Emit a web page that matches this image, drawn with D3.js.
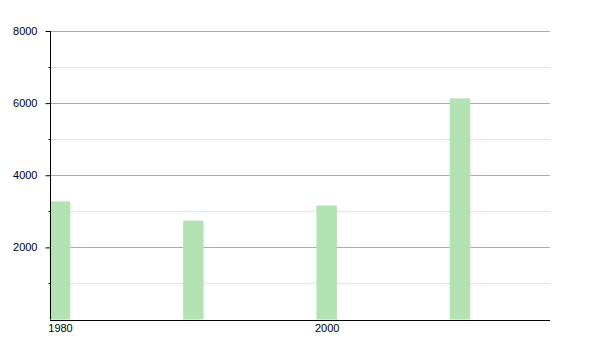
<!DOCTYPE html>
<html>
<head>
<meta charset="utf-8">
<script src="https://cdn.jsdelivr.net/npm/d3@7"></script>
<style>
  body { margin: 0; background: #fff; }
  svg { display: block; font-family: "Liberation Sans", Arial, sans-serif; }
</style>
</head>
<body>
<svg id="chart" width="600" height="350"></svg>
<script>
const years = [1980, 1990, 2000, 2010];
const values = [3275, 2740, 3160, 6130];
const xTickValues = [1980, 2000];
const yMajorTicks = [2000, 4000, 6000, 8000];
const yMinorTicks = [1000, 3000, 5000, 7000];

const margin = { left: 50, right: 50, top: 31, bottom: 30 };
const width = 600, height = 350;
const svg = d3.select("#chart");

const x = d3.scaleLinear().domain([1979.25, 2016.75]).range([margin.left, width - margin.right]);
const y = d3.scaleLinear().domain([0, 8000]).range([height - margin.bottom - 0.5, margin.top]);
const barW = 20.5;

// minor gridlines
svg.append("g").selectAll("line").data(yMinorTicks).join("line")
  .attr("x1", margin.left).attr("x2", width - margin.right)
  .attr("y1", d => Math.round(y(d)) + 0.5).attr("y2", d => Math.round(y(d)) + 0.5)
  .attr("stroke", "#e3e3e3").attr("stroke-width", 1);
// major gridlines
svg.append("g").selectAll("line").data(yMajorTicks).join("line")
  .attr("x1", margin.left).attr("x2", width - margin.right)
  .attr("y1", d => Math.round(y(d)) + 0.5).attr("y2", d => Math.round(y(d)) + 0.5)
  .attr("stroke", "#ababab").attr("stroke-width", 1);

// bars
svg.append("g").selectAll("rect").data(years).join("rect")
  .attr("x", (d) => x(d) - barW / 2)
  .attr("width", barW)
  .attr("y", (d, i) => y(values[i]))
  .attr("height", (d, i) => y(0) - y(values[i]))
  .attr("fill", "#b3e3b3");

// y axis
const yAxis = d3.axisLeft(y).tickValues(yMajorTicks).tickSize(5).tickPadding(8).tickFormat(d3.format("d"));
const gy = svg.append("g").attr("transform", `translate(${margin.left + 0.5},0)`).call(yAxis);
gy.select(".domain").attr("d", `M0,${margin.top}V${y(0)}`).attr("stroke", "#000");
gy.selectAll(".tick line").attr("stroke", "#000");
gy.selectAll(".tick text").attr("font-size", 11).attr("fill", "#000").attr("font-family", "Liberation Sans, Arial, sans-serif");
gy.append("g").selectAll("line").data(yMinorTicks).join("line")
  .attr("x1", -2).attr("x2", 0)
  .attr("y1", d => Math.round(y(d)) + 0.5).attr("y2", d => Math.round(y(d)) + 0.5)
  .attr("stroke", "#000");

// x axis
const xAxis = d3.axisBottom(x).tickValues(xTickValues).tickSize(0).tickPadding(4).tickFormat(d3.format("d"));
const gx = svg.append("g").attr("transform", `translate(0,${Math.round(y(0)) + 0.5})`).call(xAxis);
gx.select(".domain").attr("d", `M${margin.left},0H${width - margin.right}`).attr("stroke", "#000");
gx.selectAll(".tick text").attr("font-size", 11).attr("fill", "#000").attr("font-family", "Liberation Sans, Arial, sans-serif");
</script>
</body>
</html>
